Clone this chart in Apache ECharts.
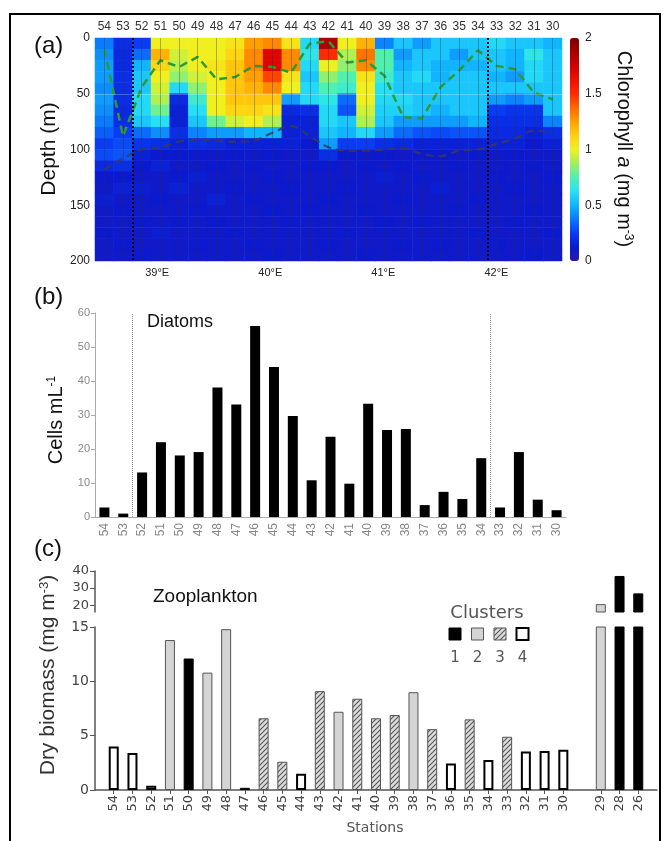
<!DOCTYPE html>
<html><head><meta charset="utf-8">
<script src="https://cdn.jsdelivr.net/npm/echarts@6/dist/echarts.min.js"></script>
<style>html,body{margin:0;padding:0;background:#fff}#c{width:670px;height:841px}</style>
</head><body><div id="c"></div>
<script>
// ---------------- DATA ----------------
const stations = ['54','53','52','51','50','49','48','47','46','45','44','43','42','41','40','39','38','37','36','35','34','33','32','31','30'];
const depthBins = ['0-10','10-20','20-30','30-40','40-50','50-60','60-70','70-80','80-90','90-100','100-110','110-120','120-130','130-140','140-150','150-160','160-170','170-180','180-190','190-200'];
// chlorophyll a (mg m-3), one row per station, one value per 10 m depth bin
const chlorophyll = [
 [0.38,0.42,0.45,0.45,0.42,0.45,0.42,0.38,0.32,0.25,0.28,0.18,0.12,0.10,0.14,0.10,0.10,0.12,0.10,0.10],
 [0.20,0.18,0.18,0.20,0.20,0.20,0.18,0.20,0.25,0.28,0.30,0.20,0.12,0.15,0.10,0.12,0.10,0.10,0.12,0.10],
 [0.25,0.35,0.50,0.55,0.55,0.60,0.60,0.55,0.35,0.22,0.15,0.12,0.10,0.14,0.10,0.10,0.12,0.10,0.10,0.12],
 [1.00,1.20,1.10,1.00,0.95,0.90,0.80,0.62,0.42,0.20,0.12,0.15,0.10,0.10,0.12,0.10,0.10,0.14,0.10,0.10],
 [1.00,0.95,0.92,0.85,0.60,0.18,0.15,0.15,0.20,0.15,0.12,0.10,0.12,0.15,0.10,0.10,0.12,0.10,0.10,0.10],
 [1.00,1.00,1.00,0.95,0.85,0.70,0.62,0.55,0.40,0.20,0.12,0.10,0.14,0.10,0.10,0.12,0.10,0.10,0.12,0.10],
 [1.00,1.00,1.05,1.00,1.00,1.00,1.00,0.80,0.45,0.18,0.10,0.12,0.10,0.10,0.15,0.10,0.12,0.10,0.10,0.10],
 [1.05,1.10,1.15,1.15,1.15,1.15,1.10,0.95,0.45,0.15,0.12,0.10,0.10,0.12,0.10,0.10,0.10,0.12,0.10,0.10],
 [1.25,1.30,1.30,1.25,1.20,1.15,1.10,1.00,0.50,0.15,0.10,0.12,0.10,0.10,0.12,0.10,0.10,0.10,0.12,0.10],
 [1.30,1.70,1.70,1.45,1.30,1.15,1.05,0.90,0.50,0.15,0.12,0.10,0.12,0.10,0.10,0.12,0.10,0.10,0.10,0.12],
 [1.05,1.30,1.30,1.05,1.00,0.45,0.18,0.15,0.15,0.15,0.10,0.10,0.10,0.12,0.10,0.10,0.12,0.10,0.10,0.10],
 [0.60,0.65,0.60,0.55,0.60,0.60,0.20,0.15,0.15,0.12,0.10,0.12,0.10,0.10,0.10,0.12,0.10,0.10,0.10,0.10],
 [1.85,1.50,1.00,0.85,0.75,0.65,0.60,0.60,0.55,0.45,0.20,0.12,0.10,0.10,0.12,0.10,0.10,0.10,0.12,0.10],
 [1.00,0.90,0.85,0.75,0.70,0.35,0.30,0.55,0.50,0.25,0.12,0.10,0.10,0.12,0.10,0.10,0.10,0.12,0.10,0.10],
 [1.20,1.35,1.30,1.05,1.00,1.00,0.95,0.90,0.60,0.25,0.10,0.12,0.10,0.10,0.10,0.12,0.10,0.10,0.10,0.12],
 [0.40,0.75,0.75,0.70,0.62,0.60,0.58,0.55,0.45,0.20,0.12,0.10,0.14,0.10,0.10,0.10,0.12,0.10,0.10,0.10],
 [0.55,0.45,0.50,0.55,0.55,0.60,0.58,0.45,0.35,0.18,0.10,0.12,0.10,0.10,0.12,0.10,0.10,0.10,0.12,0.10],
 [0.45,0.55,0.55,0.60,0.55,0.55,0.55,0.45,0.30,0.15,0.12,0.10,0.12,0.10,0.10,0.10,0.12,0.10,0.10,0.10],
 [0.55,0.55,0.50,0.50,0.55,0.55,0.50,0.45,0.28,0.15,0.12,0.10,0.10,0.14,0.10,0.10,0.10,0.10,0.12,0.10],
 [0.55,0.45,0.50,0.55,0.55,0.55,0.55,0.45,0.30,0.15,0.10,0.12,0.10,0.10,0.10,0.12,0.10,0.10,0.10,0.10],
 [0.55,0.55,0.50,0.55,0.55,0.55,0.55,0.50,0.30,0.15,0.12,0.10,0.10,0.10,0.12,0.10,0.10,0.12,0.10,0.10],
 [0.60,0.55,0.55,0.50,0.55,0.45,0.25,0.20,0.18,0.15,0.10,0.10,0.12,0.10,0.10,0.10,0.10,0.10,0.12,0.10],
 [0.55,0.50,0.50,0.45,0.55,0.40,0.22,0.20,0.18,0.15,0.12,0.10,0.10,0.12,0.10,0.10,0.12,0.10,0.10,0.10],
 [0.55,0.65,0.60,0.60,0.55,0.45,0.22,0.20,0.15,0.12,0.10,0.12,0.10,0.10,0.10,0.12,0.10,0.10,0.10,0.12],
 [0.50,0.55,0.55,0.55,0.55,0.55,0.55,0.40,0.20,0.15,0.10,0.10,0.12,0.10,0.10,0.10,0.10,0.12,0.10,0.10]
];
const greenLineDepth = [10,88,44,20,26,17,37,35,25,26,31,5,3,22,20,34,71,72,44,29,11,25,28,49,55];
const darkLineDepth  = [118,108,100,98,93,91,92,93,92,85,79,88,98,101,101,100,99,104,106,101,100,95,90,83,85];
const lonTicks = [39,40,41,42];
const dividerStations = ['52','33']; // dotted lines sit just before these stations

const diatoms = [2.8,1.0,13.1,22.0,18.1,19.1,38.1,33.1,56.2,44.1,29.7,10.8,23.6,9.8,33.3,25.6,25.9,3.5,7.4,5.3,17.3,2.8,19.1,5.1,2.0];

const zooStations = ['54','53','52','51','50','49','48','47','46','45','44','43','42','41','40','39','38','37','36','35','34','33','32','31','30','29','28','26'];
const zooBiomass  = [4.0,3.4,0.4,13.8,12.1,10.8,14.8,0.2,6.6,2.6,1.5,9.1,7.2,8.4,6.6,6.9,9.0,5.6,2.45,6.5,2.75,4.9,3.55,3.6,3.7,20.6,37.1,26.9];
const zooCluster  = [4,4,4,2,1,2,2,1,3,3,4,3,2,3,3,3,2,3,4,3,4,3,4,4,4,2,1,1];
const clusterIds = [1,2,3,4];
const upperTicks = [20,30,40];

// ---------------- STYLES ----------------
const chlColors = ['#2a18a8','#0a1ad0','#0a3cf5','#0a78ff','#10b4ff','#28e2f4','#50f0b0','#a0f060','#f0f020','#ffd010','#ffa000','#ff6800','#ff2a00','#f01000','#d00000','#a80000','#780000'];
function hatchCanvas(){
  const c=document.createElement('canvas'); c.width=5; c.height=5;
  const g=c.getContext('2d'); g.fillStyle='#dcdcdc'; g.fillRect(0,0,5,5);
  g.strokeStyle='#555'; g.lineWidth=1.1; g.beginPath();
  g.moveTo(0,5); g.lineTo(5,0); g.moveTo(-1,1); g.lineTo(1,-1); g.moveTo(4,6); g.lineTo(6,4); g.stroke();
  return c;
}
const hatch = hatchCanvas();
const clusterStyle = {
  1:{color:'#000',borderColor:'#000',borderWidth:1},
  2:{color:'#d4d4d4',borderColor:'#555',borderWidth:1},
  3:{color:{image:hatch,repeat:'repeat'},borderColor:'#555',borderWidth:1},
  4:{color:'#fff',borderColor:'#000',borderWidth:2}
};
const AR='Liberation Sans, Arial, sans-serif', VD='DejaVu Sans, Verdana, sans-serif';

// ---------------- BUILD ----------------
const heatData=[];
chlorophyll.forEach((row,i)=>row.forEach((v,j)=>heatData.push([i,j,v])));

const zooCats=[' '];
zooStations.forEach(s=>{zooCats.push(s); if(s==='30') zooCats.push('  ');});
zooCats.push('   ');
const zooLower = zooCats.map(c=>{const k=zooStations.indexOf(c); return k<0?'-':{value:zooBiomass[k],itemStyle:clusterStyle[zooCluster[k]]};});
const zooUpper = zooCats.map(c=>{const k=zooStations.indexOf(c); return (k<0||zooBiomass[k]<=15)?'-':{value:zooBiomass[k],itemStyle:clusterStyle[zooCluster[k]]};});

const dividerIdx = dividerStations.map(s=>stations.indexOf(s));

function txt(x,y,text,font,opts){
  return Object.assign({type:'text',x:x,y:y,silent:true,style:Object.assign({text:text,font:font,fill:'#111',textAlign:'left',textVerticalAlign:'middle',align:'left',verticalAlign:'middle'},opts&&opts.style||{})},opts&&opts.el||{});
}
function rtxt(x,y,text,size,rot,fam,fill){
  return {type:'text',x:x,y:y,rotation:rot,silent:true,style:{text:text,fontSize:size,fontFamily:fam,fill:fill||'#111',textAlign:'center',textVerticalAlign:'middle',align:'center',verticalAlign:'middle',
    rich:{i:{fontSize:size,fontFamily:fam,fontStyle:'italic',fill:fill||'#111'},
          n:{fontSize:size,fontFamily:fam,fill:fill||'#111'},
          s:{fontSize:Math.round(size*0.6),fontFamily:fam,fill:fill||'#111',verticalAlign:'top'}}}};
}

const graphics=[
  {type:'rect',shape:{x:10,y:14,width:650,height:840},style:{fill:'none',stroke:'#000',lineWidth:2},silent:true},
  txt(34,46,'(a)','24px '+AR),
  txt(34,297,'(b)','24px '+AR),
  txt(34,549,'(c)','24px '+AR),
  rtxt(49,149,'{n|Depth (m)}',21,Math.PI/2,AR),
  rtxt(624,149,'{n|Chlorophyll }{i|a}{n| (mg m}{s|-3}{n|)}',20,-Math.PI/2,AR),
  {type:'text',x:559,y:240,rotation:Math.PI/2,silent:true,style:{text:'Ocean Data View',fontSize:5,fontFamily:AR,fill:'#333',align:'center',verticalAlign:'middle',textAlign:'center',textVerticalAlign:'middle'}},
  txt(147,322,'Diatoms','18px '+AR),
  rtxt(56,420,'{n|Cells mL}{s|-1}',20,Math.PI/2,AR),
  txt(153,597,'Zooplankton','19px '+AR),
  rtxt(48,675,'{n|Dry biomass (mg m}{s|-3}{n|)}',21,Math.PI/2,AR,'#333'),
  txt(487,613,'Clusters','18px '+VD,{style:{fill:'#555',textAlign:'center',align:'center'}}),
  txt(375,828,'Stations','14px '+VD,{style:{fill:'#555',textAlign:'center',align:'center'}})
];
clusterIds.forEach((cid,k)=>{
  const cx=455+k*22.5;
  const st=clusterStyle[cid];
  graphics.push({type:'rect',silent:true,shape:{x:cx-6,y:628,width:12,height:12},style:{fill:st.color,stroke:st.borderColor,lineWidth:st.borderWidth}});
  graphics.push(txt(cx,658,String(cid),'15px '+VD,{style:{fill:'#555',textAlign:'center',align:'center'}}));
});

const option={
  animation:false,
  backgroundColor:'#fff',
  grid:[
    {left:95,top:38,width:467,height:223},
    {left:570,top:38,width:9,height:223},
    {left:95,top:313,width:471,height:204},
    {left:95,top:627,width:562,height:163},
    {left:95,top:571,width:562,height:41}
  ],
  xAxis:[
    {gridIndex:0,type:'category',data:stations,position:'top',axisLine:{show:false},axisTick:{show:false},
     axisLabel:{fontSize:12,fontFamily:AR,color:'#333',margin:5,interval:0}},
    {gridIndex:0,type:'value',min:38.45,max:42.58,position:'bottom',axisLine:{show:false},axisTick:{show:false},splitLine:{show:false},
     axisLabel:{fontSize:11,fontFamily:AR,color:'#222',margin:6,showMinLabel:false,showMaxLabel:false,
       formatter:v=>lonTicks.indexOf(v)>=0?v+'°E':''}},
    {gridIndex:0,type:'value',min:0,max:stations.length,show:false},
    {gridIndex:1,type:'value',show:false,min:0,max:1},
    {gridIndex:2,type:'category',data:stations,axisLine:{lineStyle:{color:'#aaa'}},axisTick:{show:false},splitLine:{show:false},
     axisLabel:{rotate:90,fontSize:12,fontFamily:AR,color:'#888',margin:6,interval:0}},
    {gridIndex:2,type:'value',min:0,max:stations.length,show:false},
    {gridIndex:3,type:'category',data:zooCats,boundaryGap:false,axisLine:{lineStyle:{color:'#555',width:1.5}},
     axisTick:{show:true,length:4,interval:(i,v)=>String(v).trim()!=='',lineStyle:{color:'#555'}},
     axisLabel:{rotate:90,fontSize:13,fontFamily:VD,color:'#444',margin:5,interval:0}},
    {gridIndex:4,type:'category',data:zooCats,boundaryGap:false,show:false}
  ],
  yAxis:[
    {gridIndex:0,type:'category',data:depthBins,inverse:true,show:false},
    {gridIndex:0,type:'value',position:'left',min:0,max:200,interval:50,inverse:true,axisLine:{show:false},axisTick:{show:false},splitLine:{show:false},
     axisLabel:{fontSize:12,fontFamily:AR,color:'#222',margin:5}},
    {gridIndex:1,type:'value',min:0,max:2,interval:0.5,position:'right',axisLine:{show:false},axisTick:{show:false},splitLine:{show:false},
     axisLabel:{fontSize:12,fontFamily:AR,color:'#222',margin:6}},
    {gridIndex:2,type:'value',position:'left',min:0,max:60,interval:10,axisLine:{show:true,lineStyle:{color:'#aaa'}},axisTick:{show:true,length:4,lineStyle:{color:'#aaa'}},splitLine:{show:false},
     axisLabel:{fontSize:11,fontFamily:AR,color:'#888',margin:5}},
    {gridIndex:3,type:'value',position:'left',min:0,max:15,interval:5,axisLine:{show:true,lineStyle:{color:'#555',width:1.5}},axisTick:{show:true,length:5,lineStyle:{color:'#555'}},splitLine:{show:false},
     axisLabel:{fontSize:14,fontFamily:VD,color:'#444',margin:6}},
    {gridIndex:4,type:'value',position:'left',min:16,max:40,axisLine:{show:true,lineStyle:{color:'#555',width:1.5}},
     axisTick:{show:true,length:5,customValues:upperTicks,lineStyle:{color:'#555'}},splitLine:{show:false},
     axisLabel:{fontSize:13,fontFamily:VD,color:'#444',margin:6,customValues:upperTicks}}
  ],
  visualMap:{type:'continuous',seriesIndex:0,min:0,max:2,left:570,top:38,itemWidth:9,itemHeight:223,padding:0,
    calculable:false,hoverLink:false,inRange:{color:chlColors},textStyle:{color:'transparent'}},
  graphic:graphics,
  series:[
    {type:'heatmap',xAxisIndex:0,yAxisIndex:0,data:heatData,emphasis:{disabled:true},silent:true},
    {type:'line',xAxisIndex:0,yAxisIndex:1,data:greenLineDepth,symbol:'none',silent:true,
     lineStyle:{color:'#2f9a35',width:2.5,type:[8,5]},
     markLine:{silent:true,symbol:['none','none'],label:{show:false},lineStyle:{color:'rgba(50,50,50,0.35)',width:1,type:'solid'},
       data:stations.map((s,i)=>({xAxis:i}))}},
    {type:'line',xAxisIndex:0,yAxisIndex:1,data:darkLineDepth,symbol:'none',smooth:0.35,silent:true,
     lineStyle:{color:'#3a3a58',width:2.2,type:[8,5],opacity:0.85}},
    {type:'line',xAxisIndex:2,yAxisIndex:1,data:[],symbol:'none',silent:true,
     markLine:{silent:true,symbol:['none','none'],label:{show:false},lineStyle:{color:'#000',width:2,type:'dotted'},
       data:dividerIdx.map(i=>({xAxis:i})).concat([{yAxis:50,lineStyle:{color:'rgba(255,255,255,0.25)',width:1,type:'solid'}}])}},
    {type:'line',xAxisIndex:1,yAxisIndex:1,data:[],silent:true},
    {type:'line',xAxisIndex:3,yAxisIndex:2,data:[],silent:true},
    {type:'bar',xAxisIndex:4,yAxisIndex:3,data:diatoms,barWidth:10,itemStyle:{color:'#000'},silent:true},
    {type:'line',xAxisIndex:5,yAxisIndex:3,data:[],symbol:'none',silent:true,
     markLine:{silent:true,symbol:['none','none'],label:{show:false},lineStyle:{color:'#999',width:1,type:'dotted'},
       data:dividerIdx.map(i=>({xAxis:i}))}},
    {type:'bar',xAxisIndex:6,yAxisIndex:4,data:zooLower,barWidth:10,silent:true},
    {type:'bar',xAxisIndex:7,yAxisIndex:5,data:zooUpper,barWidth:10,silent:true}
  ]
};
const chart=echarts.init(document.getElementById('c'),null,{renderer:'canvas',width:670,height:841});
chart.setOption(option);
</script></body></html>
